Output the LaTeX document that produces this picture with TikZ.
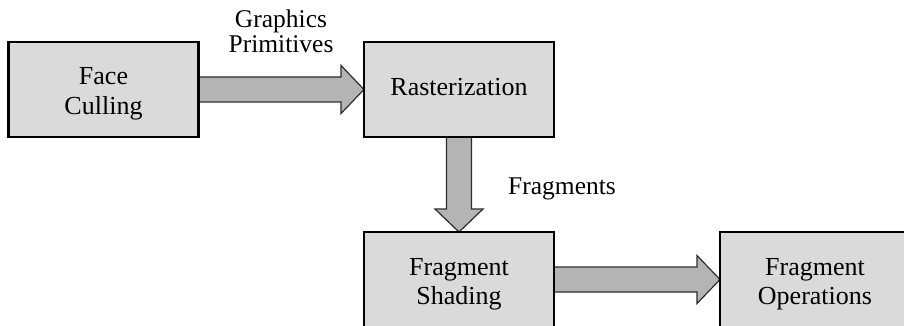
\documentclass[tikz,border=0pt]{standalone}
\usepackage{fontspec}
\setmainfont{Liberation Serif}
\usetikzlibrary{calc,backgrounds}
\definecolor{boxgray}{RGB}{218,218,218}
\definecolor{arrowgray}{RGB}{180,180,180}
\definecolor{arrowline}{RGB}{45,45,45}
\newcommand\topstr{\rule{0pt}{26pt}}
\newcommand\botstr{\rule[-6pt]{0pt}{6pt}}
\begin{document}
\begin{tikzpicture}[x=1pt,y=-1pt,
  box/.style={draw=black, line width=2.5pt, fill=boxgray, minimum width=190pt,
    minimum height=95pt, inner sep=0pt, outer sep=0pt, align=center,
    font=\fontsize{26}{29}\selectfont},
  blockarrow/.style={draw=arrowline, line width=1.2pt, fill=arrowgray, line join=miter},
  lbl/.style={inner sep=0pt, outer sep=0pt, align=center,
    font=\fontsize{25.5}{25.5}\selectfont}]
\useasboundingbox (0,0) rectangle (904,326);
\clip (0,0) rectangle (904,326);

\node[box] (fc) at (103.5,89.5) {\topstr Face\\Culling\botstr};
\node[box] (ras) at (459,89.5) {\rule[-6.4pt]{0pt}{24.4pt}Rasterization};
\node[box] (fs) at (459,279.5) {\topstr Fragment\\Shading\botstr};
\node[box] (fo) at (815,279.5) {\topstr Fragment\\Operations\botstr};

\node[lbl] (gp) at (281,33) {\rule{0pt}{20pt}Graphics\\Primitives\rule[-6pt]{0pt}{6pt}};
\node[lbl, anchor=base] (fr) at (562,194) {Fragments};

\begin{scope}[on background layer]
  \fill[white] (0,0) rectangle (904,326);
  \draw[blockarrow] let \p1=(fc.east), \p2=(ras.west) in
    (\x1,\y1+12.5pt) -- (\x2-23pt,\y1+12.5pt) -- (\x2-23pt,\y1+24pt) -- (\x2,\y2)
    -- (\x2-23pt,\y1-24pt) -- (\x2-23pt,\y1-12.5pt) -- (\x1,\y1-12.5pt) -- cycle;
  \draw[blockarrow] let \p1=(ras.south), \p2=(fs.north) in
    (\x1-12.5pt,\y1) -- (\x1-12.5pt,\y2+23pt) -- (\x1-24pt,\y2+23pt) -- (\x2,\y2)
    -- (\x1+24pt,\y2+23pt) -- (\x1+12.5pt,\y2+23pt) -- (\x1+12.5pt,\y1) -- cycle;
  \draw[blockarrow] let \p1=(fs.east), \p2=(fo.west) in
    (\x1,\y1+12.5pt) -- (\x2-23pt,\y1+12.5pt) -- (\x2-23pt,\y1+24pt) -- (\x2,\y2)
    -- (\x2-23pt,\y1-24pt) -- (\x2-23pt,\y1-12.5pt) -- (\x1,\y1-12.5pt) -- cycle;
\end{scope}
\end{tikzpicture}
\end{document}
